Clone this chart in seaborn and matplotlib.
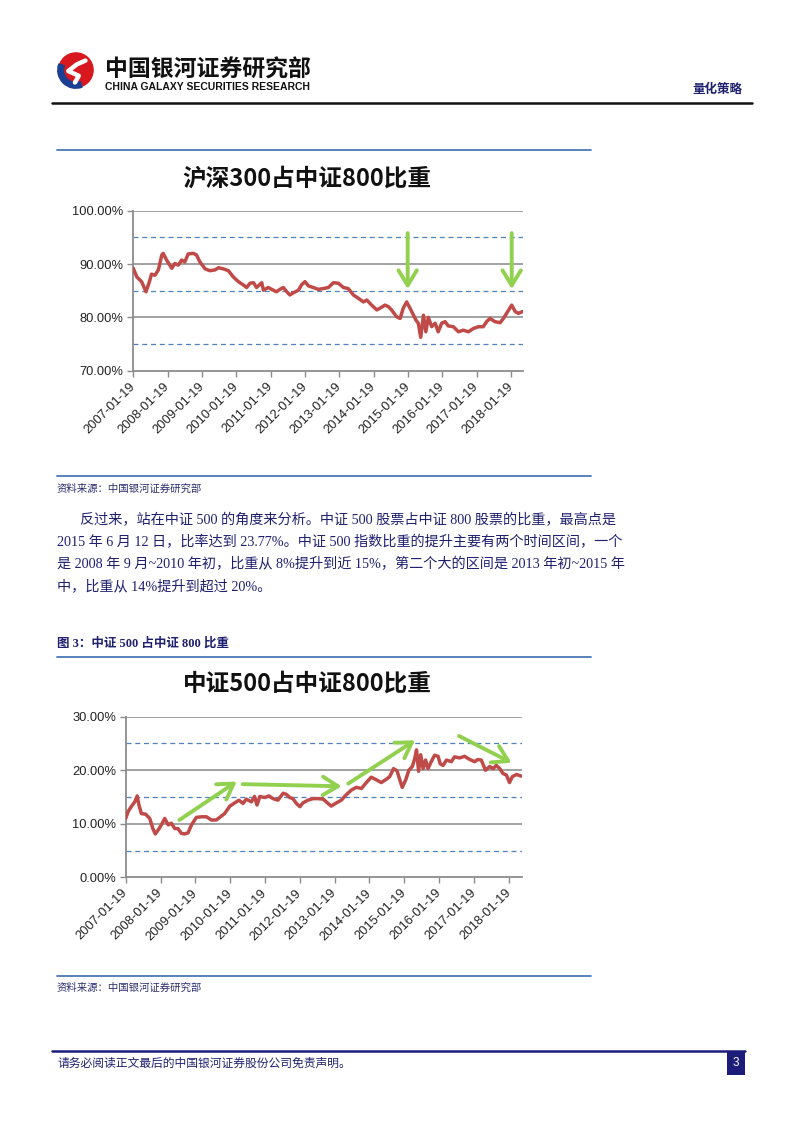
import matplotlib
matplotlib.use('Agg')
import matplotlib.pyplot as plt
import seaborn as sns
import pandas as pd
from matplotlib.patches import Rectangle, Ellipse, Wedge
from matplotlib.lines import Line2D

# ---------------- data ----------------
tick_years = [2007.05 + k for k in range(12)]
tick_labels = ['2007-01-19', '2008-01-19', '2009-01-19', '2010-01-19', '2011-01-19', '2012-01-19',
               '2013-01-19', '2014-01-19', '2015-01-19', '2016-01-19', '2017-01-19', '2018-01-19']

hs300_years = [2007.05, 2007.15, 2007.29, 2007.42, 2007.52, 2007.58, 2007.68, 2007.78, 2007.88, 2007.92,
               2008.02, 2008.17, 2008.26, 2008.36, 2008.46, 2008.55, 2008.65, 2008.80, 2008.89, 2008.99,
               2009.14, 2009.28, 2009.43, 2009.53, 2009.67, 2009.82, 2009.96, 2010.11, 2010.25, 2010.35,
               2010.45, 2010.55, 2010.64, 2010.79, 2010.84, 2010.98, 2011.08, 2011.22, 2011.32, 2011.42,
               2011.52, 2011.61, 2011.71, 2011.86, 2011.95, 2012.05, 2012.15, 2012.29, 2012.44, 2012.58,
               2012.73, 2012.88, 2013.02, 2013.17, 2013.31, 2013.46, 2013.60, 2013.75, 2013.85, 2013.99,
               2014.14, 2014.23, 2014.38, 2014.48, 2014.57, 2014.72, 2014.82, 2014.91, 2015.01, 2015.11,
               2015.21, 2015.28, 2015.35, 2015.42, 2015.50, 2015.57, 2015.64, 2015.74, 2015.84, 2015.93,
               2016.03, 2016.13, 2016.22, 2016.37, 2016.52, 2016.66, 2016.81, 2016.95, 2017.10, 2017.24,
               2017.34, 2017.44, 2017.58, 2017.73, 2017.83, 2017.92, 2018.07, 2018.17, 2018.26, 2018.39]
hs300_ratio = [89.2, 87.6, 86.7, 84.8, 86.7, 88.1, 87.9, 88.9, 91.7, 92.0,
               90.75, 89.2, 90.1, 89.8, 90.75, 90.4, 91.9, 92.0, 91.7, 90.4,
               89.1, 88.75, 88.9, 89.3, 89.1, 88.75, 87.6, 86.7, 86.1, 85.6,
               86.4, 86.5, 85.6, 86.5, 85.1, 85.6, 85.25, 84.8, 85.25, 85.6,
               84.8, 84.2, 84.6, 85.1, 86.1, 86.7, 85.9, 85.6, 85.25, 85.4,
               85.6, 86.5, 86.4, 85.6, 85.4, 84.2, 83.6, 82.9, 83.25, 82.3,
               81.4, 81.7, 82.3, 82.0, 81.4, 80.1, 79.8, 81.7, 82.9, 81.7,
               80.4, 79.5, 78.9, 76.25, 80.4, 77.3, 80.0, 78.25, 78.9, 77.3,
               78.9, 79.2, 78.4, 78.25, 77.3, 77.6, 77.3, 77.9, 78.25, 78.25,
               79.2, 79.8, 79.2, 79.0, 79.8, 80.75, 82.3, 81.1, 80.75, 81.1]

zz500_years = [2007.05, 2007.12, 2007.21, 2007.31, 2007.38, 2007.43, 2007.50, 2007.62, 2007.74, 2007.83,
               2007.90, 2008.01, 2008.10, 2008.17, 2008.27, 2008.36, 2008.46, 2008.55, 2008.65, 2008.74,
               2008.84, 2008.94, 2009.08, 2009.22, 2009.37, 2009.51, 2009.65, 2009.75, 2009.89, 2010.04,
               2010.18, 2010.30, 2010.42, 2010.51, 2010.66, 2010.75, 2010.82, 2010.90, 2011.04, 2011.16,
               2011.28, 2011.42, 2011.57, 2011.66, 2011.76, 2011.85, 2011.95, 2012.05, 2012.14, 2012.28,
               2012.43, 2012.57, 2012.72, 2012.86, 2012.95, 2013.10, 2013.24, 2013.38, 2013.53, 2013.67,
               2013.82, 2013.96, 2014.10, 2014.25, 2014.39, 2014.53, 2014.63, 2014.74, 2014.84, 2014.92,
               2014.99, 2015.09, 2015.18, 2015.28, 2015.35, 2015.40, 2015.46, 2015.52, 2015.59, 2015.66,
               2015.73, 2015.83, 2015.92, 2016.02, 2016.08, 2016.16, 2016.26, 2016.40, 2016.49, 2016.64,
               2016.78, 2016.93, 2017.07, 2017.16, 2017.26, 2017.38, 2017.50, 2017.60, 2017.69, 2017.79,
               2017.88, 2017.98, 2018.07, 2018.15, 2018.27, 2018.41]
zz500_ratio = [11.0, 12.3, 13.2, 14.1, 15.2, 13.5, 11.9, 11.8, 11.0, 9.1,
               8.1, 9.1, 10.1, 11.0, 9.8, 10.1, 9.1, 9.1, 8.2, 8.1,
               8.3, 9.8, 11.2, 11.3, 11.3, 10.7, 10.7, 11.2, 11.9, 13.3,
               13.9, 14.4, 13.8, 14.6, 14.1, 15.1, 13.5, 15.1, 14.9, 15.2,
               14.7, 14.4, 15.7, 15.5, 14.9, 14.7, 13.8, 13.2, 13.9, 14.4,
               14.7, 14.7, 14.6, 13.8, 13.3, 13.9, 14.4, 15.4, 16.3, 16.8,
               16.6, 17.7, 18.7, 18.2, 17.7, 18.3, 18.8, 20.3, 19.9, 18.2,
               16.8, 18.2, 20.0, 20.7, 22.2, 23.8, 19.8, 22.9, 20.3, 21.9,
               20.3, 21.7, 22.8, 22.6, 21.2, 20.9, 21.9, 21.6, 22.5, 22.3,
               22.6, 22.0, 21.6, 22.0, 21.9, 20.0, 20.7, 20.3, 20.9, 20.3,
               19.4, 19.1, 17.7, 18.8, 19.2, 18.9]

hs300_major = [70, 80, 90, 100]
hs300_major_labels = ['70.00%', '80.00%', '90.00%', '100.00%']
hs300_dashed = [75, 85, 95]
zz500_major = [0, 10, 20, 30]
zz500_major_labels = ['0.00%', '10.00%', '20.00%', '30.00%']
zz500_dashed = [5, 15, 25]

# arrows: (x0, y0, x1, y1) in data units
hs300_arrows = [(2015.04, 95.8, 2015.04, 85.3), (2018.07, 95.8, 2018.07, 85.3)]
zz500_arrows = [(2008.59, 10.7, 2010.24, 17.9), (2010.41, 17.4, 2013.25, 17.0),
                (2013.44, 17.5, 2015.36, 25.6), (2016.62, 26.4, 2018.13, 21.4)]

title1 = '沪深300占中证800比重'
title2 = '中证500占中证800比重'

# ---------------- figure ----------------
W, H = 802, 1133
sns.set_theme(style='white')
plt.rcParams['font.family'] = ['Noto Sans CJK SC', 'DejaVu Sans']
fig = plt.figure(figsize=(W / 100, H / 100), dpi=100)

def fx(x):
    return x / W

def fy(y):
    return 1 - y / H

def hline(y, x0, x1, color, lw):
    fig.add_artist(Line2D([fx(x0), fx(x1)], [fy(y), fy(y)], color=color, lw=lw,
                          transform=fig.transFigure))

NAVY = '#1f2170'
BLUE_LINE = '#4a78b4'
SERIF = ['Liberation Serif', 'Noto Sans CJK SC']
SANS = ['Liberation Sans', 'DejaVu Sans']

def make_chart(box, years, vals, xmax, ylim, major, major_labels, dashed, arrows):
    l, t, r, b = box
    ax = fig.add_axes([fx(l), fy(b), (r - l) / W, (b - t) / H])
    for m in major[1:]:
        ax.axhline(m, color='#9a9a9a', lw=1.3, zorder=1)
    for d in dashed:
        ax.axhline(d, color='#4f81bd', lw=0.9, ls=(0, (4, 3)), zorder=1)
    df = pd.DataFrame({'year': years, 'ratio': vals})
    sns.lineplot(data=df, x='year', y='ratio', ax=ax, color='#bf4a47', lw=2.5, zorder=3)
    for (x0, y0, x1, y1) in arrows:
        ax.annotate('', xy=(x1, y1), xytext=(x0, y0),
                    arrowprops=dict(arrowstyle='->,head_length=0.9,head_width=0.55',
                                    color='#92d050', lw=2.8, shrinkA=0, shrinkB=0),
                    zorder=4)
    ax.set_xlim(2007.05, xmax)
    ax.set_ylim(*ylim)
    ax.set_xticks(tick_years)
    ax.set_xticklabels(tick_labels, rotation=45, ha='right', va='center',
                       rotation_mode='anchor', fontsize=9.3, color='#222222', family=SANS)
    ax.set_yticks(major)
    ax.set_yticklabels(major_labels, fontsize=9.3, color='#222222', family=SANS)
    ax.tick_params(axis='x', direction='out', length=4, width=1, color='#8c8c8c', pad=6, bottom=True)
    ax.tick_params(axis='y', direction='out', length=4, width=1, color='#8c8c8c', pad=3, left=True)
    ax.set_xlabel('')
    ax.set_ylabel('')
    for s in ['top', 'right']:
        ax.spines[s].set_visible(False)
    for s in ['left', 'bottom']:
        ax.spines[s].set_color('#8c8c8c')
        ax.spines[s].set_linewidth(1.3)
    ax.patch.set_alpha(0)
    return ax

# chart 1
make_chart((133.3, 210.7, 522.7, 370.7), hs300_years, hs300_ratio, 2018.39, (70, 100),
           hs300_major, hs300_major_labels, hs300_dashed, hs300_arrows)
fig.text(fx(307), fy(179), title1, ha='center', va='center', fontsize=17, fontweight='bold',
         color='#111111')

# chart 2
make_chart((125.7, 716.7, 521.7, 877.3), zz500_years, zz500_ratio, 2018.42, (0, 30),
           zz500_major, zz500_major_labels, zz500_dashed, zz500_arrows)
fig.text(fx(307), fy(684), title2, ha='center', va='center', fontsize=17, fontweight='bold',
         color='#111111')

# ---------------- page decoration ----------------
# logo
lax = fig.add_axes([fx(53), fy(93), 42 / W, 42 / H])
lax.set_xlim(-1.1, 1.1)
lax.set_ylim(-1.1, 1.1)
lax.set_aspect('equal')
lax.axis('off')
lax.add_patch(Ellipse((0.1, 0.1), 1.8, 1.8, color='#d7191f'))
lax.add_patch(Wedge((0.1, 0.1), 0.95, 160, 290, width=0.3, color='#1b3f93'))
lax.plot([0.6, 0.15, -0.3, 0.25, 0.05], [0.6, 0.4, 0.05, -0.2, -0.55], color='white', lw=3.2,
         solid_capstyle='round')

fig.text(fx(105), fy(70), '中国银河证券研究部', ha='left', va='center', fontsize=16.5,
         fontweight='bold', color='#111111')
fig.text(fx(105), fy(87), 'CHINA GALAXY SECURITIES RESEARCH', ha='left', va='center', fontsize=7.5,
         fontweight='bold', color='#111111', family=SANS)
fig.text(fx(742), fy(89), '量化策略', ha='right', va='center', fontsize=9, fontweight='bold',
         color=NAVY)
hline(103, 52, 752, '#111111', 1.8)

# chart 1 frame lines and source
hline(150, 57, 591, BLUE_LINE, 1.3)
hline(476, 57, 591, BLUE_LINE, 1.3)
fig.text(fx(57), fy(489), '资料来源：中国银河证券研究部', ha='left', va='center', fontsize=7.5,
         color='#2b2f6e', style='italic')

# paragraph
para = [
    (80, 520, '反过来，站在中证 500 的角度来分析。中证 500 股票占中证 800 股票的比重，最高点是'),
    (57, 542, '2015 年 6 月 12 日，比率达到 23.77%。中证 500 指数比重的提升主要有两个时间区间，一个'),
    (57, 564, '是 2008 年 9 月~2010 年初，比重从 8%提升到近 15%，第二个大的区间是 2013 年初~2015 年'),
    (57, 586, '中，比重从 14%提升到超过 20%。'),
]
for x, y, s in para:
    fig.text(fx(x), fy(y), s, ha='left', va='center', fontsize=10.2, color=NAVY, family=SERIF)

# figure 3 caption
fig.text(fx(57), fy(644), '图 3：中证 500 占中证 800 比重', ha='left', va='center', fontsize=9,
         fontweight='bold', color=NAVY, family=SERIF)
hline(657, 57, 591, BLUE_LINE, 1.3)
hline(976, 57, 591, BLUE_LINE, 1.3)
fig.text(fx(57), fy(988), '资料来源：中国银河证券研究部', ha='left', va='center', fontsize=7.5,
         color='#2b2f6e', style='italic')

# footer
hline(1051, 52, 745, '#1c1c7a', 1.8)
fig.text(fx(57), fy(1063), '请务必阅读正文最后的中国银河证券股份公司免责声明。', ha='left', va='center',
         fontsize=8.5, color=NAVY)
fig.add_artist(Rectangle((fx(727), fy(1075)), 18 / W, 24 / H, transform=fig.transFigure,
                         facecolor='#1c1c7a', edgecolor='none'))
fig.text(fx(736), fy(1063), '3', ha='center', va='center', fontsize=8.5, color='white', family=SANS)

fig.savefig('out.png', dpi=100)
